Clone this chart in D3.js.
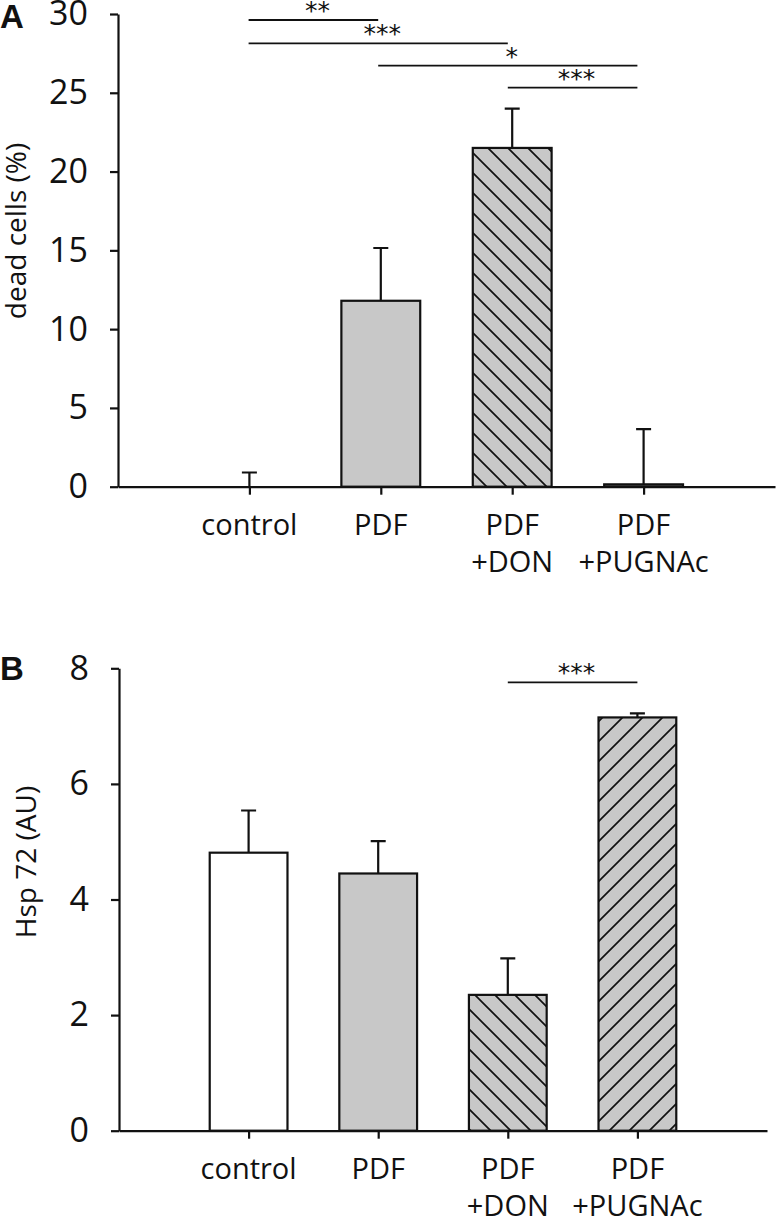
<!DOCTYPE html>
<html>
<head>
<meta charset="utf-8">
<script src="https://cdn.jsdelivr.net/npm/d3@7"></script>
<style>
  html, body { margin: 0; padding: 0; background: #fff; }
  svg { display: block; }
</style>
</head>
<body>
<svg id="chart" width="777" height="1218"></svg>
<script>
// ---------- data ----------
const categories = ["control", "PDF", "PDF +DON", "PDF +PUGNAc"];
const categoryLines = [["control"], ["PDF"], ["PDF", "+DON"], ["PDF", "+PUGNAc"]];

const deadCellsMean = [0, 11.8, 21.5, 0.15];
const deadCellsErr  = [0.9, 3.35, 2.5, 3.5];
const deadCellsTicks = [0, 5, 10, 15, 20, 25, 30];
const deadCellsFill = ["white", "gray", "back", "gray"];

const hspMean = [4.81, 4.45, 2.35, 7.15];
const hspErr  = [0.73, 0.56, 0.63, 0.07];
const hspTicks = [0, 2, 4, 6, 8];
const hspFill = ["white", "gray", "back", "fwd"];

// significance annotations: [fromIndex, toIndex, label]
const sigA = [[0, 1, "**"], [0, 2, "***"], [1, 3, "*"], [2, 3, "***"]];
const sigB = [[2, 3, "***"]];

// ---------- drawing ----------
const svg = d3.select("#chart");
const GRAY = "#c8c8c8";
const FONT = "'Open Sans', 'Noto Sans', sans-serif";

const defs = svg.append("defs");
function hatch(id, d) {
  const p = defs.append("pattern").attr("id", id)
    .attr("patternUnits", "userSpaceOnUse").attr("width", 20).attr("height", 20);
  p.append("rect").attr("width", 20).attr("height", 20).attr("fill", GRAY);
  p.append("path").attr("d", d).attr("stroke", "#111").attr("stroke-width", 1.7).attr("fill", "none");
}
hatch("hBack", "M-5,-5 L25,25 M-5,15 L5,25 M15,-5 L25,5");
hatch("hFwd", "M-5,25 L25,-5 M-5,5 L5,-5 M15,25 L25,15");
const fillOf = t => t === "white" ? "#fff" : t === "gray" ? GRAY : t === "back" ? "url(#hBack)" : "url(#hFwd)";

function panel(cfg) {
  const g = svg.append("g");
  const idx = d3.range(categories.length);
  const x = d3.scaleLinear().domain([0, categories.length + 1]).range([cfg.x0, cfg.x1]);
  const sigX = d3.scaleLinear().domain([0, categories.length + 1]).range([119, 767]);
  const step = x(1) - x(0);
  const bw = step * 0.6;
  const y = d3.scaleLinear().domain([0, cfg.ymax]).range([cfg.yBase, cfg.yTop]);

  // bars
  g.selectAll("rect.bar").data(idx).join("rect").attr("class", "bar")
    .attr("x", i => x(i + 1) - bw / 2)
    .attr("y", i => y(cfg.mean[i]))
    .attr("width", bw)
    .attr("height", i => y(0) - y(cfg.mean[i]))
    .attr("fill", i => fillOf(cfg.fill[i]))
    .attr("stroke", "#111").attr("stroke-width", 2.2);

  // error bars
  const capW = 15;
  g.selectAll("path.err").data(idx).join("path").attr("class", "err")
    .attr("d", i => {
      const cx = x(i + 1), top = y(cfg.mean[i] + cfg.err[i]), b = y(cfg.mean[i]);
      return `M${cx},${b}V${top}M${cx - capW / 2},${top}H${cx + capW / 2}`;
    })
    .attr("stroke", "#111").attr("stroke-width", 2.2).attr("fill", "none");

  // y axis
  const yAxis = d3.axisLeft(y).tickValues(cfg.ticks).tickSize(8).tickPadding(22).tickSizeOuter(0);
  const ya = g.append("g").attr("transform", `translate(${cfg.x0},0)`).call(yAxis);
  ya.select(".domain").attr("stroke", "#111").attr("stroke-width", 2.2);
  ya.selectAll(".tick line").attr("stroke", "#111").attr("stroke-width", 2.2);
  ya.selectAll(".tick text").attr("font-family", FONT).attr("font-size", 34).attr("fill", "#111");

  // x axis
  const xAxis = d3.axisBottom(x).tickValues(idx.map(i => i + 1)).tickSize(8).tickFormat("").tickSizeOuter(0);
  const xa = g.append("g").attr("transform", `translate(0,${cfg.yBase})`).call(xAxis);
  xa.select(".domain").attr("stroke", "#111").attr("stroke-width", 2.2);
  xa.selectAll(".tick line").attr("stroke", "#111").attr("stroke-width", 2.2);

  // category labels
  const lab = g.selectAll("text.cat").data(idx).join("text").attr("class", "cat")
    .attr("font-family", FONT).attr("font-size", 29).attr("fill", "#111")
    .attr("text-anchor", "middle");
  lab.each(function (i) {
    d3.select(this).selectAll("tspan").data(categoryLines[i]).join("tspan")
      .attr("x", x(i + 1))
      .attr("y", (d, k) => cfg.yBase + 48 + k * 37)
      .text(d => d);
  });

  // axis title
  g.append("text")
    .attr("transform", `translate(${cfg.titleX},${cfg.titleY}) rotate(-90)`)
    .attr("text-anchor", "middle")
    .attr("font-family", FONT).attr("font-size", 28).attr("fill", "#111")
    .text(cfg.title);

  // panel letter
  g.append("text").attr("x", 0).attr("y", cfg.letterY)
    .attr("font-family", "'Liberation Sans', Arial, sans-serif").attr("font-weight", "bold")
    .attr("font-size", 33).attr("fill", "#111").text(cfg.letter);

  // significance
  cfg.sig.forEach((s, k) => {
    const ly = cfg.sigY[k];
    const xa0 = sigX(s[0] + 1), xa1 = sigX(s[1] + 1);
    g.append("line").attr("x1", xa0).attr("x2", xa1).attr("y1", ly).attr("y2", ly)
      .attr("stroke", "#111").attr("stroke-width", 1.8);
    g.append("text").attr("x", (xa0 + xa1) / 2 + 4).attr("y", ly - 1)
      .attr("text-anchor", "middle")
      .attr("font-family", "'DejaVu Sans', sans-serif").attr("font-size", 25).attr("fill", "#111")
      .text(s[2]);
  });
}

panel({
  x0: 118, x1: 775, yBase: 486.7, yTop: 14, ymax: 30,
  mean: deadCellsMean, err: deadCellsErr, ticks: deadCellsTicks, fill: deadCellsFill,
  title: "dead cells (%)", titleX: 26, titleY: 231, letter: "A", letterY: 28,
  sig: sigA, sigY: [20, 43.3, 65.7, 87.7]
});

panel({
  x0: 119, x1: 767, yBase: 1130.7, yTop: 668.3, ymax: 8,
  mean: hspMean, err: hspErr, ticks: hspTicks, fill: hspFill,
  title: "Hsp 72 (AU)", titleX: 36, titleY: 862, letter: "B", letterY: 680,
  sig: sigB, sigY: [682.3]
});
</script>
</body>
</html>
